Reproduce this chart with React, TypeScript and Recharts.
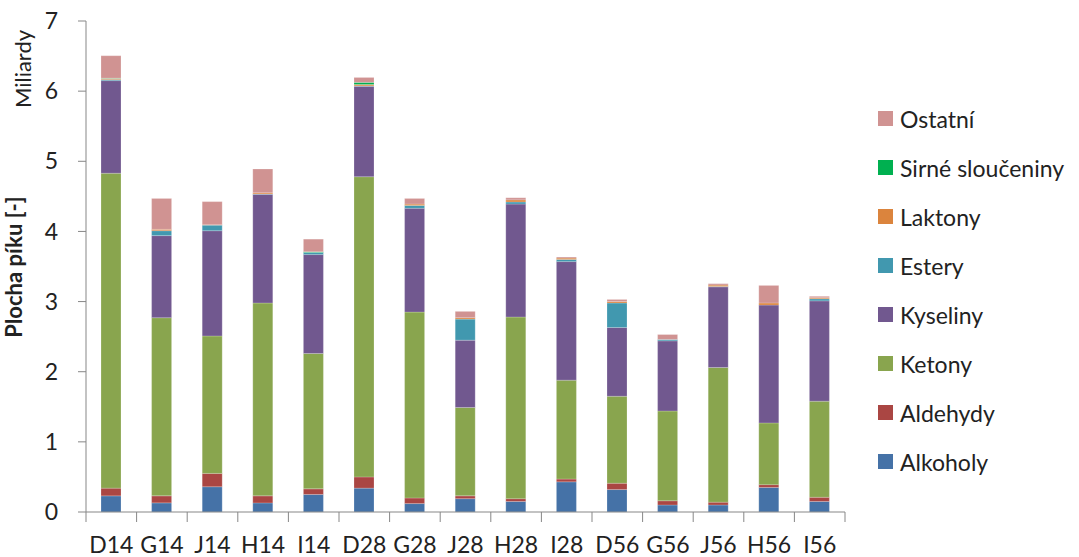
import React from "react";
import { BarChart, Bar, XAxis, YAxis } from "recharts";

const categories = ["D14", "G14", "J14", "H14", "I14", "D28", "G28", "J28", "H28", "I28", "D56", "G56", "J56", "H56", "I56"];
const alkoholy = [0.23, 0.13, 0.36, 0.13, 0.25, 0.34, 0.12, 0.19, 0.15, 0.43, 0.32, 0.10, 0.10, 0.35, 0.15];
const aldehydy = [0.11, 0.10, 0.19, 0.10, 0.08, 0.16, 0.08, 0.04, 0.04, 0.04, 0.09, 0.06, 0.04, 0.04, 0.06];
const ketony = [4.49, 2.54, 1.96, 2.75, 1.93, 4.28, 2.65, 1.26, 2.59, 1.41, 1.24, 1.28, 1.92, 0.88, 1.37];
const kyseliny = [1.32, 1.17, 1.50, 1.55, 1.41, 1.29, 1.48, 0.96, 1.61, 1.69, 0.98, 1.00, 1.15, 1.68, 1.43];
const estery = [0.015, 0.07, 0.08, 0.005, 0.03, 0.005, 0.04, 0.30, 0.03, 0.03, 0.35, 0.02, 0.005, 0.0, 0.03];
const laktony = [0.015, 0.02, 0.005, 0.015, 0.0, 0.02, 0.02, 0.02, 0.03, 0.02, 0.02, 0.0, 0.02, 0.03, 0.015];
const sirne = [0.005, 0.0, 0.0, 0.0, 0.01, 0.03, 0.0, 0.0, 0.0, 0.0, 0.0, 0.0, 0.0, 0.0, 0.0];
const ostatni = [0.32, 0.44, 0.33, 0.34, 0.18, 0.07, 0.08, 0.09, 0.03, 0.015, 0.03, 0.07, 0.02, 0.25, 0.02];
const yTicks = [0, 1, 2, 3, 4, 5, 6, 7];

const series = [
  { key: "Alkoholy", values: alkoholy, color: "#4572A7" },
  { key: "Aldehydy", values: aldehydy, color: "#AA4643" },
  { key: "Ketony", values: ketony, color: "#89A54E" },
  { key: "Kyseliny", values: kyseliny, color: "#71588F" },
  { key: "Estery", values: estery, color: "#4198AF" },
  { key: "Laktony", values: laktony, color: "#DB843D" },
  { key: "Sirné sloučeniny", values: sirne, color: "#00B050" },
  { key: "Ostatní", values: ostatni, color: "#D09392" },
];

const data = categories.map((c, i) => {
  const row: Record<string, any> = { name: c };
  series.forEach((s) => (row[s.key] = s.values[i]));
  return row;
});

const W = 1079;
const H = 557;
const X_H = 30;
const M = { top: 21, right: 234, bottom: 45 - X_H, left: 40 };
const Y_W = 46;
const FONT = "Lato, 'Open Sans', sans-serif";
const AXIS = "#878787";
const TEXT = "#222";
const band = (W - M.left - Y_W - M.right) / categories.length;

const XTick = (props: any) => {
  const { x, y, payload, index } = props;
  const last = index === categories.length - 1;
  return (
    <g>
      <line x1={x - band / 2} x2={x - band / 2} y1={y} y2={y + 10} stroke={AXIS} strokeWidth={1} />
      {last && <line x1={x + band / 2} x2={x + band / 2} y1={y} y2={y + 10} stroke={AXIS} strokeWidth={1} />}
      <text x={x} y={y + 41} textAnchor="middle" fontFamily={FONT} fontSize={23} fill={TEXT}>
        {payload.value}
      </text>
    </g>
  );
};

const LegendBox = () => (
  <div style={{ position: "absolute", left: 878, top: 94, fontFamily: FONT, fontSize: 23, color: TEXT }}>
    {[...series].reverse().map((s) => (
      <div key={s.key} style={{ display: "flex", alignItems: "center", height: 49, whiteSpace: "nowrap" }}>
        <span style={{ display: "inline-block", width: 15, height: 15, background: s.color, marginRight: 7 }} />
        <span>{s.key}</span>
      </div>
    ))}
  </div>
);

const YTitle = () => (
  <g fontFamily={FONT} fill={TEXT}>
    <text x={31} y={69} transform="rotate(-90 31 69)" textAnchor="middle" fontSize={22}>
      Miliardy
    </text>
    <text x={22} y={267} transform="rotate(-90 22 267)" textAnchor="middle" fontSize={22} fontWeight="bold">
      Plocha píku [-]
    </text>
  </g>
);

export default function App() {
  return (
    <div style={{ position: "absolute", left: 0, top: 0, width: W, height: H, background: "#fff" }}>
      <BarChart width={W} height={H} data={data} margin={M} barSize={20}>
        <XAxis
          dataKey="name"
          height={X_H}
          axisLine={{ stroke: AXIS }}
          tickLine={false}
          tickSize={0}
          tickMargin={0}
          tick={<XTick />}
          interval={0}
        />
        <YAxis
          domain={[0, 7]}
          ticks={yTicks}
          width={Y_W}
          axisLine={{ stroke: AXIS }}
          tickLine={{ stroke: AXIS }}
          tickSize={8}
          tickMargin={20}
          tick={{ fontFamily: FONT, fontSize: 23, fill: TEXT }}
          label={<YTitle />}
        />
        {series.map((s) => (
          <Bar
            key={s.key}
            dataKey={s.key}
            stackId="a"
            fill={s.color}
            stroke="rgba(255,255,255,0.35)"
            strokeWidth={0.6}
            isAnimationActive={false}
          />
        ))}
      </BarChart>
      <LegendBox />
    </div>
  );
}
